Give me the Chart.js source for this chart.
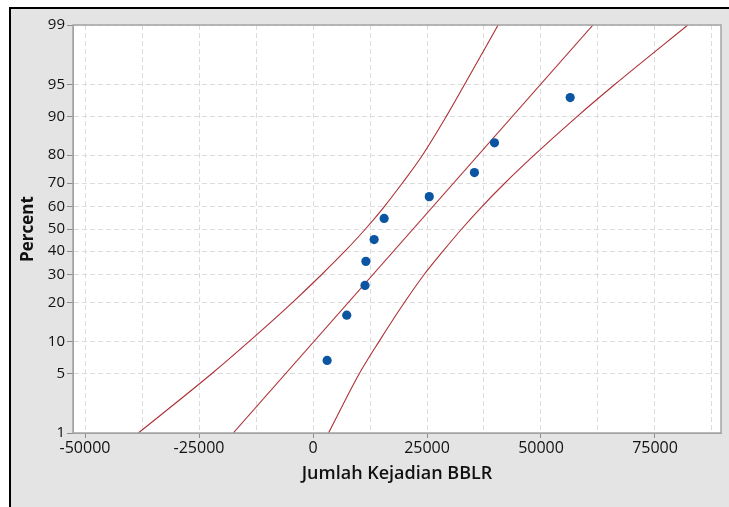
<!DOCTYPE html>
<html>
<head>
<meta charset="utf-8">
<script src="https://cdn.jsdelivr.net/npm/chart.js@4.4.1/dist/chart.umd.min.js"></script>
<style>
  body { margin: 0; background: #fff; }
  #frame {
    position: absolute; left: 9px; top: 7px;
    width: 718px; height: 498px;
    border-left: 2px solid #000; border-top: 2px solid #000;
    background: #e4e4e4;
  }
  canvas { display: block; }
</style>
</head>
<body>
<div id="frame"><canvas id="probPlot" width="718" height="498"></canvas></div>
<script>
// observed values (Jumlah Kejadian BBLR) and their plotted percents
const sampleX = [3100, 7400, 11400, 11600, 13400, 15600, 25500, 35400, 39800, 56400];
const samplePct = [6.7, 16.3, 26.0, 35.6, 45.2, 54.8, 64.4, 74.0, 83.7, 93.3];

// fitted line, read at its two ends
const fitPct = [1, 99];
const fitX = [-17500, 61400];

// 95% confidence band, read at each percent gridline
const bandPct = [1, 5, 10, 20, 30, 40, 50, 60, 70, 80, 90, 95, 99];
const bandLeftX = [-38300, -22100, -14000, -4600, 1800, 7000, 11500, 15600, 19600, 24000, 29200, 33200, 40600];
const bandRightX = [3400, 10200, 14500, 20000, 24300, 28500, 32600, 37000, 42100, 48500, 57900, 66100, 82200];

// axis ticks
const percentTicks = [1, 5, 10, 20, 30, 40, 50, 60, 70, 80, 90, 95, 99];
const xGridLines = [-50000, -37500, -25000, -12500, 0, 12500, 25000, 37500, 50000, 62500, 75000, 87500];
const xMin = -52632, xMax = 89474;

// inverse normal cdf (Acklam)
function probit(p) {
  const a = [-3.969683028665376e+01, 2.209460984245205e+02, -2.759285104469687e+02, 1.383577518672690e+02, -3.066479806614716e+01, 2.506628277459239e+00];
  const b = [-5.447609879822406e+01, 1.615858368580409e+02, -1.556989798598866e+02, 6.680131188771972e+01, -1.328068155288572e+01];
  const c = [-7.784894002430293e-03, -3.223964580411365e-01, -2.400758277161838e+00, -2.549671489883553e+00, 4.374664141464968e+00, 2.938163982698783e+00];
  const d = [7.784695709041462e-03, 3.224671290700398e-01, 2.445134137142996e+00, 3.754408661907416e+00];
  const pl = 0.02425;
  if (p < pl) {
    const q = Math.sqrt(-2 * Math.log(p));
    return (((((c[0]*q+c[1])*q+c[2])*q+c[3])*q+c[4])*q+c[5]) / ((((d[0]*q+d[1])*q+d[2])*q+d[3])*q+1);
  }
  if (p > 1 - pl) {
    const q = Math.sqrt(-2 * Math.log(1 - p));
    return -(((((c[0]*q+c[1])*q+c[2])*q+c[3])*q+c[4])*q+c[5]) / ((((d[0]*q+d[1])*q+d[2])*q+d[3])*q+1);
  }
  const q = p - 0.5, r = q * q;
  return (((((a[0]*r+a[1])*r+a[2])*r+a[3])*r+a[4])*r+a[5])*q / (((((b[0]*r+b[1])*r+b[2])*r+b[3])*r+b[4])*r+1);
}

// normal probability axis
class ProbabilityScale extends Chart.LinearScale {
  getPixelForValue(value) {
    const lo = probit(this.min / 100), hi = probit(this.max / 100);
    return this.getPixelForDecimal((probit(value / 100) - lo) / (hi - lo));
  }
  getValueForPixel(pixel) {
    const lo = probit(this.min / 100), hi = probit(this.max / 100);
    const z = lo + this.getDecimalForPixel(pixel) * (hi - lo);
    let a = 0.0001, b = 0.9999;
    for (let i = 0; i < 40; i++) {
      const m = (a + b) / 2;
      if (probit(m) < z) a = m; else b = m;
    }
    return 100 * (a + b) / 2;
  }
}
ProbabilityScale.id = 'probability';
Chart.register(ProbabilityScale);

const toPoints = (xs, ps) => xs.map((x, i) => ({ x: x, y: ps[i] }));

const plotFrame = {
  id: 'plotFrame',
  beforeDraw(chart) {
    const { ctx, chartArea: a } = chart;
    ctx.save();
    ctx.fillStyle = '#fff';
    ctx.fillRect(a.left, a.top, a.right - a.left, a.bottom - a.top);
    ctx.restore();
  },
  afterDraw(chart) {
    const { ctx, chartArea: a } = chart;
    ctx.save();
    ctx.strokeStyle = '#a3a3a3';
    ctx.lineWidth = 1.5;
    ctx.strokeRect(a.left, a.top, a.right - a.left, a.bottom - a.top);
    ctx.restore();
  }
};

const curveColor = '#ad3036';
const lineStyle = {
  showLine: true,
  pointRadius: 0,
  borderColor: curveColor,
  borderWidth: 1.1,
  cubicInterpolationMode: 'monotone'
};

new Chart(document.getElementById('probPlot'), {
  type: 'scatter',
  data: {
    datasets: [
      {
        data: toPoints(sampleX, samplePct),
        pointRadius: 4.6,
        pointBackgroundColor: '#0b55a3',
        pointBorderWidth: 0
      },
      Object.assign({ data: toPoints(bandLeftX, bandPct) }, lineStyle),
      Object.assign({ data: toPoints(fitX, fitPct) }, lineStyle),
      Object.assign({ data: toPoints(bandRightX, bandPct) }, lineStyle)
    ]
  },
  options: {
    responsive: false,
    devicePixelRatio: 1,
    animation: false,
    layout: { padding: { top: 16, right: 8, left: 0, bottom: 0 } },
    plugins: {
      legend: { display: false },
      tooltip: { enabled: false }
    },
    scales: {
      x: {
        type: 'linear',
        min: xMin,
        max: xMax,
        afterBuildTicks: s => { s.ticks = xGridLines.map(v => ({ value: v })); },
        afterFit: s => { s.height = 74; },
        grid: {
          color: '#dcdcdc',
          tickLength: 5,
          tickColor: c => (c.tick && c.tick.value % 25000 === 0) ? '#8c8c8c' : 'rgba(0,0,0,0)'
        },
        border: { display: true, color: '#a3a3a3', dash: [5, 3] },
        ticks: {
          autoSkip: false,
          maxRotation: 0,
          padding: 1,
          color: '#111',
          font: { family: 'Open Sans', size: 16 },
          callback: v => v % 25000 === 0 ? String(v) : ''
        },
        title: {
          display: true,
          text: 'Jumlah Kejadian BBLR',
          color: '#111',
          font: { family: 'Open Sans', size: 18, weight: '600' },
          padding: { top: 0, bottom: 22 }
        }
      },
      y: {
        type: 'probability',
        min: 1,
        max: 99,
        afterBuildTicks: s => { s.ticks = percentTicks.map(v => ({ value: v })); },
        afterFit: s => { s.width = 62; },
        grid: { color: '#dcdcdc', tickLength: 6, tickColor: '#8c8c8c' },
        border: { display: true, color: '#a3a3a3', dash: [5, 3] },
        ticks: {
          autoSkip: false,
          padding: 2,
          color: '#111',
          font: { family: 'Open Sans', size: 15 },
          callback: v => String(v)
        },
        title: {
          display: true,
          text: 'Percent',
          color: '#111',
          font: { family: 'Open Sans', size: 17, weight: 'bold' },
          padding: { top: 7, bottom: 0 }
        }
      }
    }
  },
  plugins: [plotFrame]
});
</script>
</body>
</html>
